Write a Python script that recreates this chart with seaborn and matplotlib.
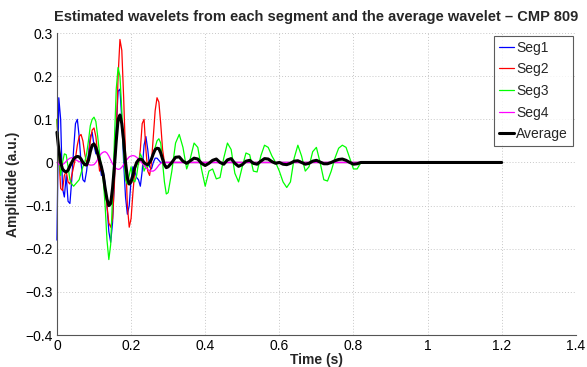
#!/usr/bin/env python3
"""
Estimated wavelets per segment plus the average wavelet (CMP 809).
"""
import numpy as np
import pandas as pd
import matplotlib
matplotlib.use("Agg")
import matplotlib.pyplot as plt
import seaborn as sns

# sample times: 5 ms up to 0.30 s, 10 ms up to 0.82 s
t_fine = np.round(np.arange(0, 0.3001, 0.005), 3)
t_coarse = np.round(np.arange(0.31, 0.8201, 0.01), 2)
t_tail = [0.83, 1.2]

seg1_fine = [-0.18, 0.15, 0.1, -0.06, -0.08, -0.03, -0.09, -0.095, -0.04, 0.03,
             0.09, 0.1, 0.06, 0.0, -0.04, -0.045, -0.02, 0.02, 0.06, 0.07,
             0.04, 0.02, 0.03, 0.0, -0.03, -0.02, -0.05, -0.1, -0.16, -0.185,
             -0.14, -0.04, 0.08, 0.165, 0.17, 0.1, 0.0, -0.08, -0.12, -0.1,
             -0.04, -0.01, -0.02, -0.035, -0.04, -0.055, -0.02, 0.04, 0.06, 0.03,
             -0.01, -0.015, 0.0, 0.01, 0.01, 0.005, 0.0, 0.0, 0.0, 0.0,
             0.0]
seg2_fine = [0.1, 0.02, -0.06, -0.065, -0.03, -0.02, -0.045, -0.05, -0.03, -0.01,
             0.01, 0.04, 0.06, 0.065, 0.05, 0.02, 0.0, 0.01, 0.05, 0.075,
             0.08, 0.06, 0.02, -0.02, -0.01, -0.03, -0.06, -0.1, -0.14, -0.15,
             -0.13, -0.05, 0.06, 0.2, 0.285, 0.26, 0.15, 0.02, -0.1, -0.15,
             -0.13, -0.07, -0.02, 0.0, -0.005, 0.03, 0.09, 0.1, 0.03, -0.02,
             -0.03, 0.0, 0.06, 0.12, 0.15, 0.14, 0.09, 0.03, 0.0, 0.0,
             0.0]
seg3_fine = [0.1, 0.02, -0.03, 0.0, 0.02, 0.018, -0.01, -0.04, -0.05, -0.055,
             -0.05, -0.045, -0.04, -0.025, -0.01, 0.0, 0.02, 0.05, 0.085, 0.1,
             0.105, 0.095, 0.06, 0.02, -0.01, -0.04, -0.1, -0.18, -0.225, -0.19,
             -0.08, 0.05, 0.17, 0.22, 0.2, 0.12, 0.02, -0.04, -0.05, -0.03,
             -0.01, -0.04, -0.045, -0.03, 0.0, 0.02, 0.01, -0.02, -0.01, -0.01,
             0.0, 0.01, 0.02, 0.035, 0.05, 0.055, 0.045, 0.0, -0.045, -0.073,
             -0.07]
seg3_coarse = [-0.02, 0.045, 0.065, 0.035, -0.015, 0.01, 0.045, 0.035, -0.015, -0.055,
               -0.02, -0.015, -0.038, -0.035, 0.01, 0.045, 0.03, -0.025, -0.045, -0.01,
               0.022, 0.018, -0.02, -0.022, 0.015, 0.04, 0.035, 0.015, 0.0, -0.02,
               -0.045, -0.058, -0.045, 0.01, 0.04, 0.015, -0.02, -0.01, 0.025, 0.035,
               0.0, -0.04, -0.043, -0.02, 0.01, 0.033, 0.04, 0.035, 0.01, -0.015,
               -0.015, 0.0]
seg4_fine = [0.0, -0.004, -0.006, -0.005, -0.002, 0.003, 0.007, 0.01, 0.011, 0.01,
             0.007, 0.004, 0.002, 0.0, -0.001, -0.002, -0.003, -0.005, -0.006, -0.006,
             -0.005, 0.0, 0.007, 0.015, 0.021, 0.024, 0.025, 0.022, 0.015, 0.006,
             -0.003, -0.01, -0.014, -0.016, -0.015, -0.011, -0.005, 0.002, 0.008, 0.013,
             0.015, 0.016, 0.015, 0.012, 0.008, 0.003, -0.002, -0.007, -0.012, -0.016,
             -0.019, -0.02, -0.02, -0.017, -0.012, -0.006, -0.002, 0.0, 0.0, 0.0,
             0.0]
avg_fine = [0.07, 0.03, 0.0, -0.015, -0.02, -0.022, -0.018, -0.008, 0.0, 0.008,
            0.012, 0.014, 0.013, 0.008, 0.0, -0.005, -0.006, 0.005, 0.025, 0.04,
            0.043, 0.035, 0.02, 0.005, -0.01, -0.03, -0.06, -0.085, -0.1, -0.095,
            -0.06, -0.01, 0.05, 0.1, 0.11, 0.09, 0.05, 0.0, -0.035, -0.05,
            -0.045, -0.03, -0.012, 0.0, 0.006, 0.008, 0.006, 0.0, -0.004, -0.005,
            0.0, 0.008, 0.02, 0.03, 0.033, 0.032, 0.022, 0.008, -0.005, -0.012,
            -0.01]
avg_coarse = [0.0, 0.012, 0.013, 0.003, -0.002, 0.004, 0.01, 0.008, -0.002, -0.007,
              -0.002, 0.005, 0.008, 0.0, -0.004, 0.006, 0.009, -0.002, -0.009, -0.005,
              0.003, 0.005, -0.002, -0.004, 0.003, 0.009, 0.008, 0.002, -0.002, 0.0,
              -0.004, -0.005, -0.002, 0.003, 0.004, 0.0, -0.004, -0.002, 0.003, 0.005,
              0.001, -0.003, -0.003, 0.0, 0.004, 0.007, 0.008, 0.005, 0.0, -0.004,
              -0.003, 0.0]
avg_tail = [0.0, 0.0]
# segments 1, 2 and 4 are flat after 0.30 s
flat_coarse = [0.0] * len(t_coarse)

labels = ["Seg1", "Seg2", "Seg3", "Seg4", "Average"]
colors = ["#0000ff", "#ff0000", "#00ff00", "#ff00ff", "#000000"]

t_seg = np.concatenate([t_fine, t_coarse])
t_avg = np.concatenate([t_fine, t_coarse, t_tail])
series = [
    (t_seg, seg1_fine + flat_coarse),
    (t_seg, seg2_fine + flat_coarse),
    (t_seg, seg3_fine + seg3_coarse),
    (t_seg, seg4_fine + flat_coarse),
    (t_avg, avg_fine + avg_coarse + avg_tail),
]

sns.set_style("white")
plt.rcParams['font.family'] = ['Liberation Sans', 'DejaVu Sans']

fig = plt.figure(figsize=(5.87, 3.67), dpi=100)
ax = fig.add_axes([0.097, 0.087, 0.884, 0.823])

for (t, y), name, col in zip(series, labels, colors):
    df = pd.DataFrame({"time": t, "amp": y})
    lw = 2.2 if name == "Average" else 0.9
    sns.lineplot(data=df, x="time", y="amp", ax=ax, color=col, lw=lw,
                 label=name, sort=False, estimator=None, clip_on=False)

ax.set_xlim(0, 1.4)
ax.set_ylim(-0.4, 0.3)
ax.set_xticks(np.arange(0, 1.41, 0.2))
ax.set_xticklabels(["0", "0.2", "0.4", "0.6", "0.8", "1", "1.2", "1.4"])
ax.set_yticks(np.arange(-0.4, 0.31, 0.1))
ax.set_yticklabels(["\u22120.4", "\u22120.3", "\u22120.2", "\u22120.1", "0",
                    "0.1", "0.2", "0.3"])
ax.grid(True, linestyle=(0, (1, 2)), color="#c8c8c8", linewidth=0.7)
ax.tick_params(direction="in", length=3, labelsize=10, colors="black",
               width=0.6, pad=3)
for side in ["top", "right"]:
    ax.spines[side].set_visible(False)
for side in ["left", "bottom"]:
    ax.spines[side].set_color("#555555")
    ax.spines[side].set_linewidth(0.8)

ax.set_title("Estimated wavelets from each segment and the average wavelet \u2013 CMP 809",
             fontsize=10.5, fontweight="bold", pad=9)
ax.set_xlabel("Time (s)", fontsize=10, fontweight="bold", labelpad=0)
ax.set_ylabel("Amplitude (a.u.)", fontsize=10, fontweight="bold", labelpad=4)

leg = ax.legend(loc="upper right", fontsize=10, frameon=True, fancybox=False,
                handlelength=1.1, handletextpad=0.15, labelspacing=0.55,
                borderpad=0.35, borderaxespad=0.2, edgecolor="#333333")
leg.get_frame().set_linewidth(0.8)

plt.savefig("out.png", dpi=100)
plt.close()
